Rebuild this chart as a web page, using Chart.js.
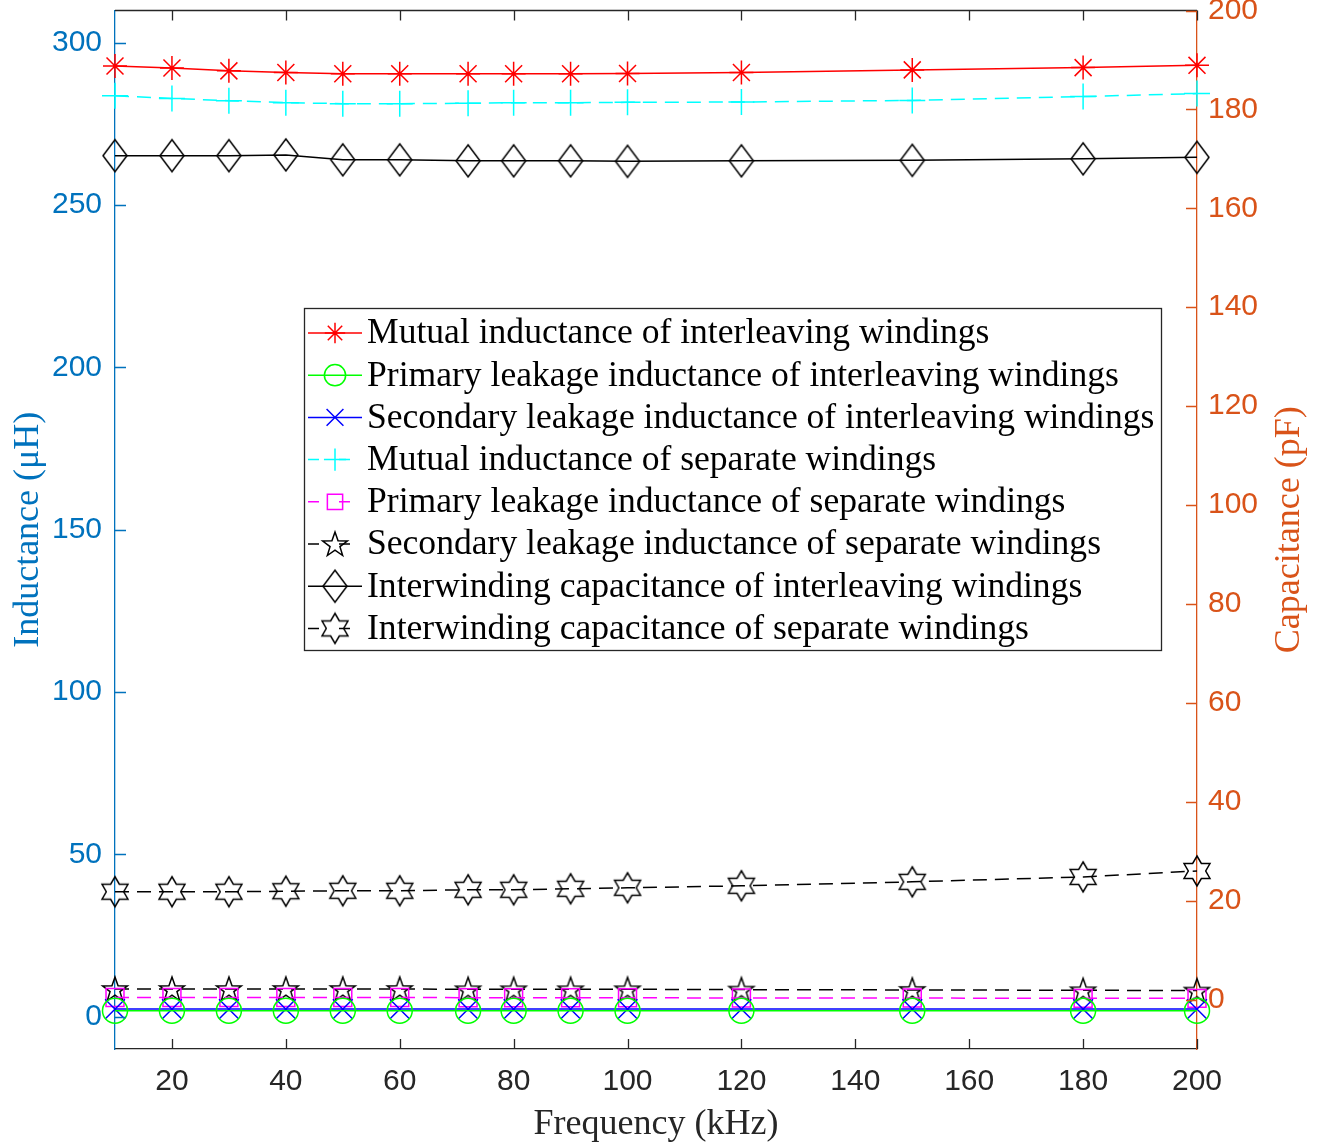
<!DOCTYPE html>
<html>
<head>
<meta charset="utf-8">
<script src="https://cdn.jsdelivr.net/npm/chart.js@4.4.1/dist/chart.umd.min.js"></script>
<style>
  html, body { margin: 0; padding: 0; background: #fff; overflow: hidden; }
  canvas { display: block; margin-top: -5px; }
</style>
</head>
<body>
<canvas id="chart" width="1321" height="1151"></canvas>
<script>
// frequency points (kHz)
const freq = [10, 20, 30, 40, 50, 60, 72, 80, 90, 100, 120, 150, 180, 200];

// inductances (uH), left axis
const mutualInterleave = [292.9, 292.3, 291.4, 290.9, 290.5, 290.5, 290.5, 290.5, 290.5, 290.6, 290.9, 291.7, 292.4, 293.1];
const primLeakInterleave = [1.8, 1.8, 1.8, 1.8, 1.8, 1.8, 1.8, 1.8, 1.8, 1.8, 1.8, 1.8, 1.8, 1.8];
const secLeakInterleave = [2.3, 2.3, 2.3, 2.3, 2.3, 2.3, 2.3, 2.3, 2.3, 2.3, 2.3, 2.3, 2.3, 2.3];
const mutualSeparate = [283.7, 282.9, 282.2, 281.6, 281.3, 281.3, 281.4, 281.6, 281.6, 281.7, 281.8, 282.3, 283.5, 284.4];
const primLeakSeparate = [5.9, 5.9, 5.9, 5.9, 5.9, 5.9, 5.8, 5.8, 5.8, 5.8, 5.7, 5.7, 5.6, 5.6];
const secLeakSeparate = [8.5, 8.5, 8.5, 8.5, 8.5, 8.5, 8.4, 8.4, 8.4, 8.4, 8.3, 8.2, 8.1, 8.0];

// interwinding capacitance (pF), right axis
const capInterleave = [170.65, 170.65, 170.65, 170.8, 169.8, 169.8, 169.6, 169.6, 169.6, 169.5, 169.6, 169.7, 170.0, 170.3];
const capSeparate = [21.8, 21.8, 21.8, 21.9, 22.0, 22.0, 22.2, 22.2, 22.4, 22.6, 23.0, 23.8, 24.8, 26.0];

const seriesNames = [
  'Mutual inductance of interleaving windings',
  'Primary leakage inductance of interleaving windings',
  'Secondary leakage inductance of interleaving windings',
  'Mutual inductance of separate windings',
  'Primary leakage inductance of separate windings',
  'Secondary leakage inductance of separate windings',
  'Interwinding capacitance of interleaving windings',
  'Interwinding capacitance of separate windings'
];

const xTicks = [20, 40, 60, 80, 100, 120, 140, 160, 180, 200];
const leftTicks = [0, 50, 100, 150, 200, 250, 300];
const rightTicks = [0, 20, 40, 60, 80, 100, 120, 140, 160, 180, 200];

const BLUE_AX = '#0072BD';
const ORANGE_AX = '#D95319';
const DARK = '#262626';
const SERIF = '"Liberation Serif", "Times New Roman", serif';
const SANS = '"Liberation Sans", Arial, sans-serif';

// custom marker images (matlab style)
function markerCanvas(w, h, draw) {
  const c = document.createElement('canvas');
  c.width = w; c.height = h;
  const g = c.getContext('2d');
  g.strokeStyle = '#000';
  g.lineWidth = 1.5;
  g.beginPath();
  draw(g, w / 2, h / 2);
  g.closePath();
  g.stroke();
  return c;
}
function starPath(g, cx, cy, n, R, r) {
  for (let k = 0; k < 2 * n; k++) {
    const ang = -Math.PI / 2 + k * Math.PI / n;
    const rad = k % 2 ? r : R;
    const px = cx + rad * Math.cos(ang), py = cy + rad * Math.sin(ang);
    if (k === 0) g.moveTo(px, py); else g.lineTo(px, py);
  }
}
const pentagram = markerCanvas(32, 32, (g, cx, cy) => starPath(g, cx, cy + 1, 5, 13, 5.2));
const hexagram = markerCanvas(34, 34, (g, cx, cy) => starPath(g, cx, cy, 6, 15, 8.7));
const diamond = markerCanvas(30, 38, (g, cx, cy) => {
  g.moveTo(cx, cy - 16); g.lineTo(cx + 12, cy); g.lineTo(cx, cy + 16); g.lineTo(cx - 12, cy);
});

function series(label, data, color, style, radius, dashed, axis) {
  return {
    label: label,
    data: freq.map((f, i) => ({ x: f, y: data[i] })),
    yAxisID: axis,
    borderColor: color,
    backgroundColor: 'rgba(0,0,0,0)',
    borderWidth: 1.5,
    borderDash: dashed ? [14, 8] : [],
    pointStyle: style,
    pointRadius: radius,
    pointBorderColor: color,
    pointBackgroundColor: 'rgba(0,0,0,0)',
    pointBorderWidth: 1.5,
    fill: false,
    tension: 0,
    clip: false
  };
}

const datasets = [
  series(seriesNames[0], mutualInterleave, '#FF0000', 'star', 12, false, 'yL'),
  series(seriesNames[1], primLeakInterleave, '#00FF00', 'circle', 12.5, false, 'yL'),
  series(seriesNames[2], secLeakInterleave, '#0000FF', 'crossRot', 14, false, 'yL'),
  series(seriesNames[3], mutualSeparate, '#00FFFF', 'cross', 13, true, 'yL'),
  series(seriesNames[4], primLeakSeparate, '#FF00FF', 'rect', 12.7, true, 'yL'),
  series(seriesNames[5], secLeakSeparate, '#000000', pentagram, 13, true, 'yL'),
  series(seriesNames[6], capInterleave, '#000000', diamond, 13, false, 'yR'),
  series(seriesNames[7], capSeparate, '#000000', hexagram, 13, true, 'yR')
];

// inward tick marks, top frame line, right axis title
const frameTicks = {
  id: 'frameTicks',
  afterDatasetsDraw(chart) {
    const { ctx, chartArea: a, scales } = chart;
    ctx.save();
    ctx.lineWidth = 1.3;
    ctx.strokeStyle = DARK;
    ctx.beginPath();
    ctx.moveTo(a.left, a.top); ctx.lineTo(a.right, a.top);
    scales.x.ticks.forEach(t => {
      const px = Math.round(scales.x.getPixelForValue(t.value)) + 0.5;
      ctx.moveTo(px, a.bottom); ctx.lineTo(px, a.bottom - 10);
      ctx.moveTo(px, a.top); ctx.lineTo(px, a.top + 10);
    });
    ctx.stroke();
    ctx.strokeStyle = BLUE_AX;
    ctx.beginPath();
    scales.yL.ticks.forEach(t => {
      const py = Math.round(scales.yL.getPixelForValue(t.value)) + 0.5;
      ctx.moveTo(a.left, py); ctx.lineTo(a.left + 11, py);
    });
    ctx.stroke();
    ctx.strokeStyle = ORANGE_AX;
    ctx.beginPath();
    scales.yR.ticks.forEach(t => {
      const py = Math.round(scales.yR.getPixelForValue(t.value)) + 0.5;
      ctx.moveTo(a.right, py); ctx.lineTo(a.right - 11, py);
    });
    ctx.stroke();
    // right axis title, reading bottom to top
    ctx.translate(1290, (a.top + a.bottom) / 2);
    ctx.rotate(-Math.PI / 2);
    ctx.fillStyle = ORANGE_AX;
    ctx.font = '36px ' + SERIF;
    ctx.textAlign = 'center';
    ctx.textBaseline = 'middle';
    ctx.fillText('Capacitance (pF)', 0, 0);
    ctx.restore();
  }
};

// boxed legend inside the plot
const boxLegend = {
  id: 'boxLegend',
  afterDraw(chart) {
    const ctx = chart.ctx;
    const x0 = 304, y0 = 313, w = 857, h = 342, step = 42.2;
    ctx.save();
    ctx.fillStyle = '#fff';
    ctx.fillRect(x0, y0, w, h);
    ctx.strokeStyle = DARK;
    ctx.lineWidth = 1.3;
    ctx.strokeRect(x0 + 0.5, y0 + 0.5, w, h);
    const drawPoint = Chart.helpers && Chart.helpers.drawPoint;
    chart.data.datasets.forEach((ds, i) => {
      const cy = y0 + 25 + i * step;
      ctx.strokeStyle = ds.borderColor;
      ctx.lineWidth = 1.5;
      ctx.setLineDash(ds.borderDash.length ? [11, 20] : []);
      ctx.beginPath();
      ctx.moveTo(x0 + 4, cy); ctx.lineTo(x0 + 58, cy);
      ctx.stroke();
      ctx.setLineDash([]);
      if (drawPoint) {
        ctx.fillStyle = 'rgba(0,0,0,0)';
        drawPoint(ctx, { pointStyle: ds.pointStyle, radius: ds.pointRadius * 0.85, borderWidth: 1.5, rotation: 0 }, x0 + 31, cy);
      }
      ctx.fillStyle = '#000';
      ctx.font = '35.6px ' + SERIF;
      ctx.textAlign = 'left';
      ctx.textBaseline = 'middle';
      ctx.fillText(ds.label, x0 + 63, cy + 1);
    });
    ctx.restore();
  }
};

function noPad(s) {
  s.paddingTop = 0; s.paddingBottom = 0; s.paddingLeft = 0; s.paddingRight = 0;
}

new Chart(document.getElementById('chart'), {
  type: 'line',
  data: { datasets: datasets },
  plugins: [frameTicks, boxLegend],
  options: {
    responsive: false,
    animation: false,
    layout: { padding: { top: 15, left: 0, right: 0, bottom: 0 } },
    plugins: { legend: { display: false }, tooltip: { enabled: false } },
    scales: {
      x: {
        type: 'linear', min: 10, max: 200,
        afterBuildTicks: s => { s.ticks = xTicks.map(v => ({ value: v })); },
        afterFit: s => { s.height = 97; noPad(s); },
        grid: { drawOnChartArea: false, drawTicks: false },
        border: { color: DARK, width: 1.3 },
        ticks: { color: DARK, font: { family: SANS, size: 30 }, padding: 15, maxRotation: 0, autoSkip: false },
        title: { display: true, text: 'Frequency (kHz)', color: DARK, font: { family: SERIF, size: 36 }, padding: { top: 0, bottom: 0 } }
      },
      yL: {
        type: 'linear', position: 'left', min: -10, max: 310,
        afterBuildTicks: s => { s.ticks = leftTicks.map(v => ({ value: v })); },
        afterFit: s => { s.width = 115; noPad(s); },
        grid: { drawOnChartArea: false, drawTicks: false },
        border: { color: BLUE_AX, width: 1.3 },
        ticks: { color: BLUE_AX, font: { family: SANS, size: 30 }, padding: 13 },
        title: { display: true, text: 'Inductance (μH)', color: BLUE_AX, font: { family: SERIF, size: 36 }, padding: { top: 7, bottom: 0 } }
      },
      yR: {
        type: 'linear', position: 'right', min: -10, max: 200,
        afterBuildTicks: s => { s.ticks = rightTicks.map(v => ({ value: v })); },
        afterFit: s => { s.width = 124; noPad(s); },
        grid: { drawOnChartArea: false, drawTicks: false },
        border: { color: ORANGE_AX, width: 1.3 },
        ticks: { color: ORANGE_AX, font: { family: SANS, size: 30 }, padding: 11 }
      }
    }
  }
});
</script>
</body>
</html>
